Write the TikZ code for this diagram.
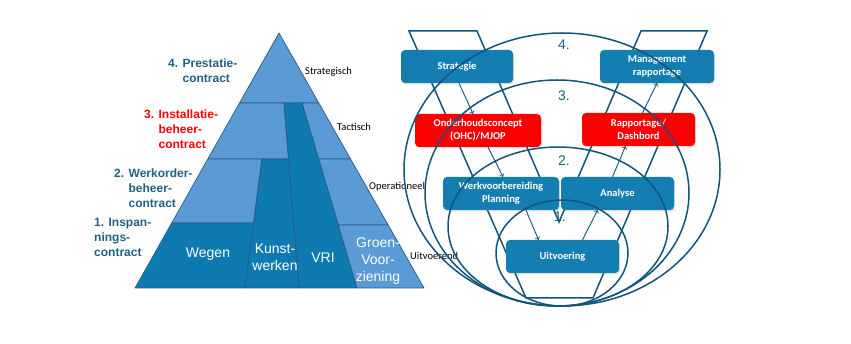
\documentclass[tikz,border=0pt]{standalone}
\usepackage{fontspec}
\setmainfont{Liberation Sans}
\newfontfamily\carlito{Carlito}
\usepackage{tikz}
\usetikzlibrary{shadows}

\definecolor{pyrlight}{RGB}{91,155,213}
\definecolor{pyrdark}{RGB}{14,122,176}
\definecolor{pyredge}{RGB}{40,90,135}
\definecolor{vline}{RGB}{18,84,122}
\definecolor{boxblue}{RGB}{20,126,178}
\definecolor{boxred}{RGB}{250,0,0}
\definecolor{tealtext}{RGB}{31,98,128}

\tikzset{
    piece/.style={draw=pyredge, line width=0.7pt, line join=round},
    contract/.style={anchor=west, align=left, inner sep=0pt, font=\bfseries\fontsize{12}{15}\selectfont},
    pyrtext/.style={text=white, align=center, inner sep=0pt, font=\fontsize{14}{17}\selectfont},
    level/.style={anchor=west, inner sep=0pt, font=\carlito\fontsize{10.5}{12}\selectfont},
    vbox/.style={fill=boxblue, rounded corners=4pt, text=white, align=center,
        minimum height=33pt, inner sep=1pt, font=\carlito\bfseries\fontsize{10.5}{13}\selectfont,
        drop shadow={opacity=0.25, shadow xshift=1pt, shadow yshift=-1.5pt}},
    redbox/.style={vbox, fill=boxred},
    ring/.style={draw=vline, line width=1.5pt},
    ringnum/.style={text=tealtext, inner sep=0pt, font=\fontsize{14}{16}\selectfont},
    flow/.style={->, draw=vline, line width=0.9pt}
}

\begin{document}
\begin{tikzpicture}[x=1pt, y=-1pt]

    \useasboundingbox (0,0) rectangle (851,344);

    % Draw pyramid
    \filldraw[piece, fill=pyrlight] (279,33) -- (239.5,103) -- (318.8,103) -- cycle;
    \filldraw[piece, fill=pyrlight] (239.5,103) -- (284,103) -- (288.5,159) -- (207.8,159) -- cycle;
    \filldraw[piece, fill=pyrlight] (302,103) -- (318.8,103) -- (350.6,159) -- (318.6,159) -- cycle;
    \filldraw[piece, fill=pyrlight] (207.8,159) -- (262,159) -- (253.6,223) -- (171.7,223) -- cycle;
    \filldraw[piece, fill=pyrlight] (318.6,159) -- (350.6,159) -- (388.2,225) -- (338.3,225) -- cycle;
    \filldraw[piece, fill=pyrdark] (171.7,223) -- (253.6,223) -- (245,288) -- (135,288) -- cycle;
    \filldraw[piece, fill=pyrdark] (262,159) -- (288.5,159) -- (299,288) -- (245,288) -- cycle;
    \filldraw[piece, fill=pyrdark] (284,103) -- (302,103) -- (357,288) -- (299,288) -- cycle;
    \filldraw[piece, fill=pyrlight] (338.3,225) -- (388.2,225) -- (424,288) -- (357,288) -- cycle;

    \node[pyrtext] (wegen) at (208,254) {Wegen};
    \node[pyrtext] (kunst) at (275,257) {Kunst-\\werken};
    \node[pyrtext] (vri) at (323,258) {VRI};
    \node[pyrtext] (groen) at (378,261) {Groen-\\Voor-\\ziening};

    % Contract labels
    \node[contract, text=tealtext] (c4) at (168,70.5) {4. Prestatie-\\\hphantom{4. }contract};
    \node[contract, text=red] (c3) at (144,129) {3. Installatie-\\\hphantom{3. }beheer-\\\hphantom{3. }contract};
    \node[contract, text=tealtext] (c2) at (114,188) {2. Werkorder-\\\hphantom{2. }beheer-\\\hphantom{2. }contract};
    \node[contract, text=tealtext] (c1) at (94,237) {1. Inspan-\\nings-\\contract};

    % Level labels
    \node[level] (strategisch) at (305,72) {Strategisch};
    \node[level] (tactisch) at (337,127) {Tactisch};
    \node[level] (operationeel) at (369,187) {Operationeel};
    \node[level] (uitvoerend) at (410,256) {Uitvoerend};

    % Draw V
    \draw[ring, line join=miter] (409,31) -- (477,31) -- (559,222) -- (641,31) -- (707,31)
        -- (593,298) -- (526,298) -- cycle;

    % Boxes
    \node[vbox, minimum width=112pt] (strategie) at (457,66.5) {Strategie};
    \node[vbox, minimum width=114pt] (management) at (657,66.5) {Management\\rapportage};
    \node[redbox, minimum width=126pt] (onderhoud) at (478,130.5) {Onderhoudsconcept\\(OHC)/MJOP};
    \node[redbox, minimum width=113pt] (rapportage) at (638.5,129.5) {Rapportage/\\Dashbord};
    \node[vbox, minimum width=116pt] (werkvoorb) at (501,193.5) {Werkvoorbereiding\\Planning};
    \node[vbox, minimum width=113pt] (analyse) at (617.5,193.5) {Analyse};
    \node[vbox, minimum width=113pt] (uitvoering) at (562.5,256.5) {Uitvoering};

    % Draw rings
    \foreach \cx/\cy/\rx/\ry in {562/169.5/158/136.5, 557/193/132/113, 558/226.5/110/79.5, 562/253/66/53}
        \draw[ring] (\cx,\cy) ellipse [x radius=\rx pt, y radius=\ry pt];

    \node[ringnum] (n4) at (564,45) {4.};
    \node[ringnum] (n3) at (564,96) {3.};
    \node[ringnum] (n2) at (564,161) {2.};
    \node[ringnum] (n1) at (560,217) {1.};

    % Arrows
    \draw[flow] ([xshift=2pt]strategie.south) -- ([xshift=-5pt]onderhoud.north);
    \draw[flow] ([xshift=10pt]onderhoud.south) -- ([xshift=2pt]werkvoorb.north);
    \draw[flow] ([xshift=25pt]werkvoorb.south) -- ([xshift=-24pt]uitvoering.north);
    \draw[flow] ([xshift=20pt]uitvoering.north) -- ([xshift=-20pt]analyse.south);
    \draw[flow] ([xshift=-5pt]analyse.north) -- ([xshift=-13pt]rapportage.south);
    \draw[flow] ([xshift=4pt]rapportage.north) -- (management.south);

\end{tikzpicture}
\end{document}
